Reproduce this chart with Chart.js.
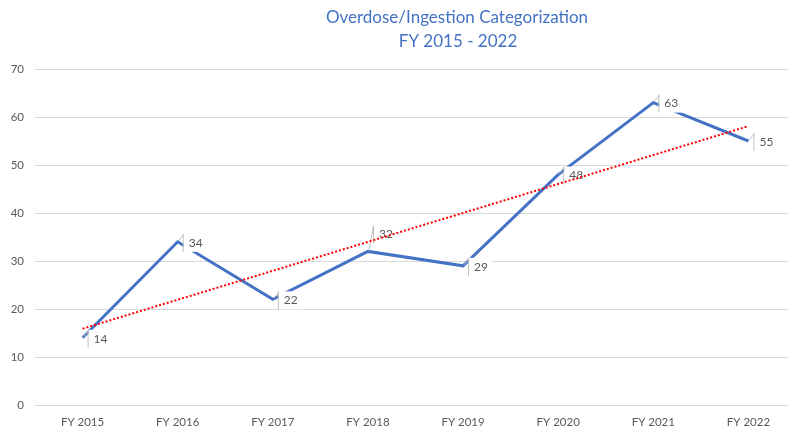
<!DOCTYPE html>
<html>
<head>
<meta charset="utf-8">
<script src="https://cdn.jsdelivr.net/npm/chart.js@4"></script>
<style>
  html, body { margin: 0; padding: 0; background: #fff; overflow: hidden; }
  #wrap { width: 800px; height: 429px; position: relative; }
</style>
</head>
<body>
<div id="wrap"><canvas id="grafico"></canvas></div>
<script>
// dados
const anos = ["FY 2015", "FY 2016", "FY 2017", "FY 2018", "FY 2019", "FY 2020", "FY 2021", "FY 2022"];
const casos = [14, 34, 22, 32, 29, 48, 63, 55];
// linha de tendência (pontas)
const tendencia = [15.9, null, null, null, null, null, null, 58.1];
const yTicks = [0, 10, 20, 30, 40, 50, 60, 70];

const tituloLinhas = ["Overdose/Ingestion Categorization", "FY 2015 - 2022"];
const fonte = "Lato, 'Open Sans', sans-serif";

// título deslocado como no Excel
const pluginTitulo = {
    id: "titulo",
    afterDraw(chart) {
        const ctx = chart.ctx;
        ctx.save();
        ctx.fillStyle = "#4472C4";
        ctx.font = "17px " + fonte;
        ctx.textAlign = "center";
        ctx.textBaseline = "middle";
        ctx.fillText(tituloLinhas[0], 457, 18);
        ctx.fillText(tituloLinhas[1], 458, 42);
        ctx.restore();
    }
};

// rótulos de dados com caixinha branca e linha guia
// (desenhados logo após a série azul, a tendência fica por cima)
const pluginRotulos = {
    id: "rotulos",
    afterDatasetDraw(chart, args) {
        if (args.index !== 0) return;
        const ctx = chart.ctx;
        const meta = args.meta;
        ctx.save();
        ctx.font = "12px " + fonte;
        ctx.textBaseline = "middle";
        meta.data.forEach((p, i) => {
            const txt = String(casos[i]);
            const dy = i === 3 ? -17 : 1;
            const tx = p.x + 11;
            const ty = p.y + dy;
            const w = ctx.measureText(txt).width;
            ctx.fillStyle = "#fff";
            ctx.fillRect(tx - 5, ty - 9, w + 9, 18);
            ctx.strokeStyle = "#bfbfbf";
            ctx.lineWidth = 1;
            ctx.beginPath();
            ctx.moveTo(tx - 5.5, ty - 9);
            ctx.lineTo(tx - 5.5, ty + 9);
            ctx.moveTo(tx - 5.5, ty - 8);
            ctx.lineTo(p.x + 1, p.y - 1);
            ctx.stroke();
            ctx.fillStyle = "#595959";
            ctx.fillText(txt, tx, ty);
        });
        ctx.restore();
    }
};

new Chart(document.getElementById("grafico"), {
    type: "line",
    data: {
        labels: anos,
        datasets: [
            {
                data: casos,
                borderColor: "#4472C4",
                borderWidth: 3,
                pointRadius: 0,
                tension: 0,
                order: 1
            },
            {
                data: tendencia,
                borderColor: "#FF0000",
                borderWidth: 2,
                borderDash: [2, 2],
                pointRadius: 0,
                spanGaps: true,
                order: 0
            }
        ]
    },
    options: {
        responsive: true,
        maintainAspectRatio: false,
        animation: false,
        layout: { padding: { top: 69, right: 4, left: 0, bottom: 0 } },
        plugins: {
            legend: { display: false },
            tooltip: { enabled: false },
            title: { display: false }
        },
        scales: {
            x: {
                offset: true,
                grid: { display: false, drawTicks: false },
                border: { display: false },
                ticks: { color: "#595959", font: { family: fonte, size: 11.5 }, padding: 10, maxRotation: 0 },
                afterFit: s => { s.height = 24; }
            },
            y: {
                min: 0,
                max: 70,
                afterBuildTicks: s => { s.ticks = yTicks.map(v => ({ value: v })); },
                grid: { color: "#d9d9d9", drawTicks: false },
                border: { display: false },
                ticks: { color: "#595959", font: { family: fonte, size: 11.5 }, padding: 11 },
                afterFit: s => { s.width = 35; }
            }
        }
    },
    plugins: [pluginTitulo, pluginRotulos]
});
</script>
</body>
</html>
